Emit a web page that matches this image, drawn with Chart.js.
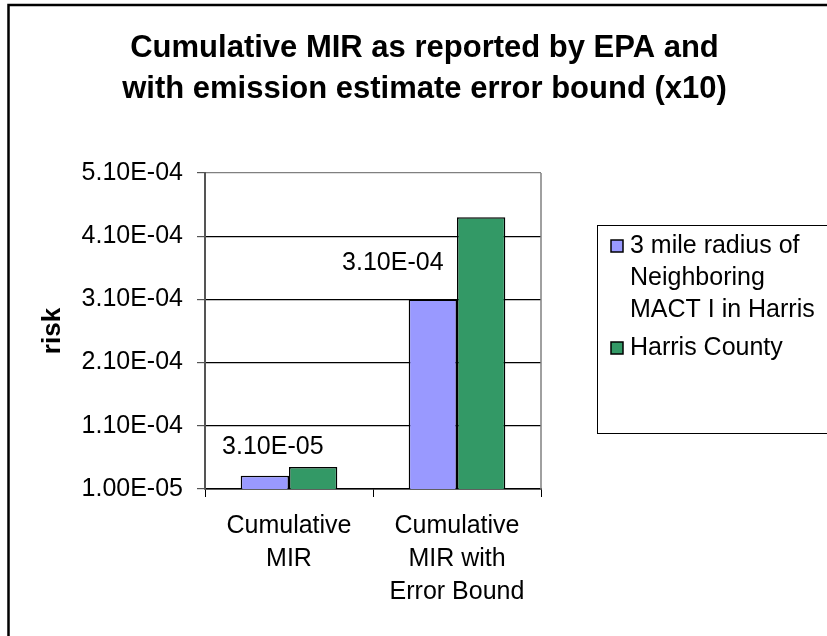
<!DOCTYPE html>
<html>
<head>
<meta charset="utf-8">
<title>Cumulative MIR</title>
<script src="https://cdn.jsdelivr.net/npm/chart.js@4.4.1/dist/chart.umd.min.js"></script>
<style>
  html, body { margin: 0; padding: 0; background: #fff; }
  #c { display: block; }
</style>
</head>
<body>
<canvas id="c" width="827" height="636"></canvas>
<script>
// ── Data ──────────────────────────────────────────────────────────────────────
const TITLE_LINES  = ['Cumulative MIR as reported by EPA and', 'with emission estimate error bound (x10)'];
const CATEGORIES   = [['Cumulative', 'MIR'], ['Cumulative', 'MIR with', 'Error Bound']];
const SERIES_NAMES = ['3 mile radius of Neighboring MACT I in Harris', 'Harris County'];
const NEIGHBORING  = [3.1e-5, 3.1e-4];
const HARRIS       = [4.5e-5, 4.4e-4];
const Y_TICKS      = [1.0e-5, 1.1e-4, 2.1e-4, 3.1e-4, 4.1e-4, 5.1e-4];
const Y_TITLE      = 'risk';

const FONT = "'Liberation Sans', Arial, sans-serif";

// 5.1e-4 -> "5.10E-04"
const sci = v => {
    const [m, e] = Number(v).toExponential(2).split('e');
    const n = Math.abs(parseInt(e, 10));
    return m + 'E' + (e[0] === '-' ? '-' : '+') + String(n).padStart(2, '0');
};

// ── Decorations: frame, title, plot border, value labels, legend ─────────────
const decor = {
    id: 'decor',
    beforeDraw(chart) {
        const { ctx } = chart;
        ctx.save();
        ctx.fillStyle = '#fff';
        ctx.fillRect(0, 0, chart.width, chart.height);
        ctx.strokeStyle = '#000'; ctx.lineWidth = 2.5;
        ctx.strokeRect(8.5, 5, chart.width + 20, chart.height + 20);

        ctx.fillStyle = '#000';
        ctx.font = `bold 31px ${FONT}`;
        ctx.textAlign = 'center'; ctx.textBaseline = 'alphabetic';
        TITLE_LINES.forEach((t, i) => ctx.fillText(t, 424.5, 57 + i * 40.5));
        ctx.restore();
    },
    beforeDatasetsDraw(chart) {
        const { ctx, chartArea: a } = chart;
        ctx.save();
        ctx.strokeStyle = '#808080'; ctx.lineWidth = 1.5;
        ctx.beginPath();
        ctx.moveTo(a.right, a.top); ctx.lineTo(a.right, a.bottom);
        ctx.stroke();
        ctx.restore();
    },
    afterDatasetsDraw(chart, args, opts) {
        const { ctx } = chart;
        const meta = chart.getDatasetMeta(0);
        ctx.save();
        ctx.fillStyle = '#000';
        ctx.font = `25px ${FONT}`;
        ctx.textAlign = 'center'; ctx.textBaseline = 'alphabetic';
        meta.data.forEach((bar, i) => {
            const [dx, dy] = opts.offsets[i];
            ctx.fillText(sci(chart.data.datasets[0].data[i]), bar.x + dx, bar.y + dy);
        });

        // legend
        const L = opts.legend;
        ctx.strokeStyle = '#000'; ctx.lineWidth = 1;
        ctx.strokeRect(L.x + 0.5, L.y + 0.5, 400, L.h);
        ctx.font = `25px ${FONT}`;
        ctx.textAlign = 'left';
        let y = L.firstBaseline;
        chart.data.datasets.forEach(ds => {
            // wrap label
            const words = ds.label.split(' ');
            const lines = [];
            let cur = '';
            words.forEach(w => {
                const t = cur ? cur + ' ' + w : w;
                if (ctx.measureText(t).width > L.maxW && cur) { lines.push(cur); cur = w; }
                else cur = t;
            });
            lines.push(cur);
            ctx.fillStyle = ds.backgroundColor;
            ctx.fillRect(L.x + 14, y - 13, 12, 12);
            ctx.lineWidth = 1.5;
            ctx.strokeRect(L.x + 14, y - 13, 12, 12);
            ctx.fillStyle = '#000';
            lines.forEach((ln, k) => ctx.fillText(ln, L.x + 33, y + k * 32));
            y += lines.length * 32 + 6;
        });
        ctx.restore();
    }
};

// ── Chart ─────────────────────────────────────────────────────────────────────
new Chart(document.getElementById('c'), {
    type: 'bar',
    data: {
        labels: CATEGORIES,
        datasets: [
            { label: SERIES_NAMES[0], data: NEIGHBORING, backgroundColor: '#9999FF',
              borderColor: '#000', borderWidth: 1.5, borderSkipped: false },
            { label: SERIES_NAMES[1], data: HARRIS, backgroundColor: '#339966',
              borderColor: '#000', borderWidth: 1.5, borderSkipped: false },
        ]
    },
    options: {
        responsive: false, animation: false, devicePixelRatio: 1,
        layout: { padding: { top: 173, left: 0, right: 286, bottom: 0 } },
        datasets: { bar: { categoryPercentage: 0.575, barPercentage: 1 } },
        plugins: {
            legend: { display: false },
            title: { display: false },
            tooltip: { enabled: false },
            decor: {
                offsets: [[8, -22], [-40, -29]],
                legend: { x: 597, y: 225, h: 208, firstBaseline: 253, maxW: 195 }
            }
        },
        scales: {
            x: {
                grid: { drawOnChartArea: false, drawTicks: true, tickLength: 8, offset: true, tickColor: '#000' },
                border: { display: true, color: '#000', width: 1.5 },
                ticks: { color: '#000', font: { family: FONT, size: 25, lineHeight: 1.33 },
                         padding: 12, maxRotation: 0, autoSkip: false },
                afterFit: s => { s.height = 147; }
            },
            y: {
                min: Y_TICKS[0], max: Y_TICKS[Y_TICKS.length - 1],
                afterBuildTicks: s => { s.ticks = Y_TICKS.map(v => ({ value: v })); },
                grid: {
                    color: c => c.index === Y_TICKS.length - 1 ? '#808080' : '#000',
                    lineWidth: 1.2, tickLength: 8, tickColor: '#555'
                },
                border: { display: true, color: '#555', width: 2 },
                ticks: { color: '#000', font: { family: FONT, size: 25 }, padding: 14,
                         callback: v => sci(v) },
                title: { display: true, text: Y_TITLE, color: '#000',
                         font: { family: FONT, size: 26, weight: 'bold' },
                         padding: { top: 37, bottom: 0 } },
                afterFit: s => { s.width = 205; }
            }
        }
    },
    plugins: [decor]
});
</script>
</body>
</html>
